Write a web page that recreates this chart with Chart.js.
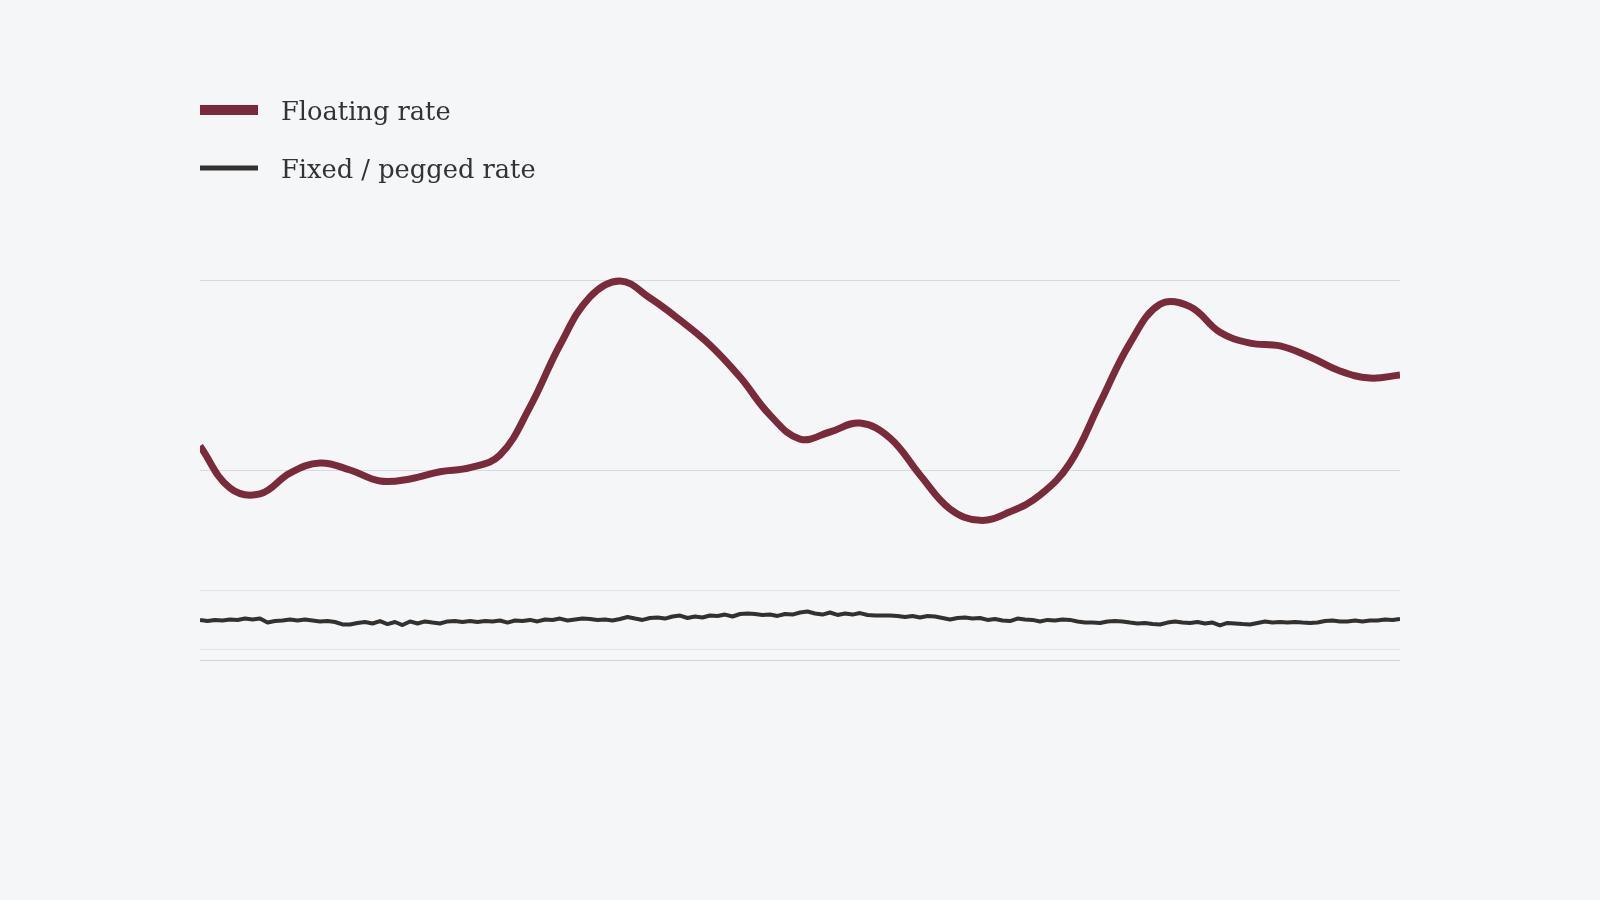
<!DOCTYPE html>
<html>
<head>
<meta charset="utf-8">
<style>
  html, body { margin: 0; padding: 0; background: #f5f6f8; }
  #wrap { width: 1600px; height: 900px; }
</style>
<script src="https://cdn.jsdelivr.net/npm/chart.js@4.4.1/dist/chart.umd.min.js"></script>
</head>
<body>
<div id="wrap"><canvas id="rateChart"></canvas></div>
<script>
// volatility index, sampled evenly across the period (0..100)
const seriesLabels = ["Floating rate", "Fixed / pegged rate"];

const floatingRate = [
  1.126, 0.905, 0.874, 0.984, 1.037, 1.000, 0.942, 0.953, 0.991, 1.012,
  1.079, 1.332, 1.658, 1.911, 1.995, 1.905, 1.789, 1.658, 1.489, 1.289,
  1.163, 1.200, 1.247, 1.168, 0.974, 0.795, 0.735, 0.780, 0.868, 1.037,
  1.353, 1.668, 1.872, 1.860, 1.725, 1.668, 1.653, 1.595, 1.521, 1.484,
  1.500
];

const fixedRate = [
  0.211, 0.205, 0.211, 0.208, 0.213, 0.211, 0.218, 0.213, 0.218, 0.197,
  0.205, 0.208, 0.213, 0.208, 0.213, 0.208, 0.203, 0.205, 0.200, 0.187,
  0.187, 0.195, 0.200, 0.192, 0.205, 0.189, 0.200, 0.184, 0.203, 0.192,
  0.203, 0.197, 0.192, 0.203, 0.205, 0.200, 0.205, 0.200, 0.205, 0.203,
  0.208, 0.197, 0.208, 0.205, 0.211, 0.203, 0.213, 0.211, 0.218, 0.208,
  0.213, 0.218, 0.216, 0.211, 0.213, 0.208, 0.216, 0.226, 0.218, 0.211,
  0.221, 0.224, 0.218, 0.229, 0.234, 0.221, 0.229, 0.224, 0.234, 0.232,
  0.239, 0.229, 0.242, 0.245, 0.242, 0.237, 0.239, 0.232, 0.242, 0.239,
  0.250, 0.255, 0.245, 0.239, 0.250, 0.237, 0.245, 0.239, 0.247, 0.237,
  0.234, 0.234, 0.234, 0.232, 0.226, 0.232, 0.224, 0.232, 0.229, 0.221,
  0.213, 0.221, 0.224, 0.218, 0.221, 0.211, 0.216, 0.208, 0.205, 0.218,
  0.213, 0.211, 0.203, 0.211, 0.208, 0.213, 0.211, 0.203, 0.197, 0.197,
  0.195, 0.203, 0.205, 0.203, 0.197, 0.192, 0.195, 0.189, 0.187, 0.197,
  0.203, 0.197, 0.195, 0.200, 0.192, 0.197, 0.182, 0.195, 0.192, 0.189,
  0.187, 0.195, 0.203, 0.197, 0.200, 0.197, 0.200, 0.197, 0.195, 0.197,
  0.205, 0.208, 0.203, 0.203, 0.208, 0.203, 0.208, 0.208, 0.213, 0.211,
  0.216
];

// gridlines: 0 baseline, peg band edges, then 1 and 2
const gridTicks = [0, 0.053, 0.368, 1, 2];

const toPoints = (values) =>
  values.map((v, i) => ({ x: i * 100 / (values.length - 1), y: v }));

const legendLines = {
  id: "legendLines",
  afterDraw(chart, args, opts) {
    const ctx = chart.ctx;
    ctx.save();
    ctx.font = opts.font;
    ctx.textBaseline = "alphabetic";
    ctx.textAlign = "left";
    chart.data.datasets.forEach((ds, i) => {
      const cy = opts.rows[i];
      ctx.fillStyle = ds.borderColor;
      ctx.fillRect(opts.x, cy - opts.heights[i] / 2, opts.swatch, opts.heights[i]);
      ctx.fillStyle = opts.color;
      ctx.fillText(ds.label, opts.x + opts.swatch + opts.gap, cy + opts.baseline);
    });
    ctx.restore();
  }
};

const ctx = document.getElementById("rateChart").getContext("2d");
const rateChart = new Chart(ctx, {
  type: "line",
  data: {
    datasets: [
      {
        label: seriesLabels[0],
        data: toPoints(floatingRate),
        borderColor: "#7a2b3b",
        borderWidth: 7,
        tension: 0.4,
        pointRadius: 0,
        fill: false,
      },
      {
        label: seriesLabels[1],
        data: toPoints(fixedRate),
        borderColor: "#32312f",
        borderWidth: 4,
        borderJoinStyle: "round",
        tension: 0,
        pointRadius: 0,
        fill: false,
      },
    ],
  },
  options: {
    responsive: true,
    maintainAspectRatio: false,
    animation: false,
    layout: {
      padding: { left: 200, right: 200, top: 242, bottom: 240 },
    },
    scales: {
      x: {
        type: "linear",
        min: 0,
        max: 100,
        display: false,
      },
      y: {
        min: 0,
        max: 2.2,
        afterBuildTicks: (scale) => {
          scale.ticks = gridTicks.map((v) => ({ value: v }));
        },
        ticks: { display: false },
        border: { display: false },
        grid: {
          drawTicks: false,
          lineWidth: 1,
          color: (c) => {
            const v = c.tick.value;
            if (v === 0) return "#d3d3d7";
            if (v < 1) return "#e7dfe2";
            return "#d9d9dc";
          },
        },
      },
    },
    plugins: {
      legend: { display: false },
      tooltip: { enabled: false },
      legendLines: {
        x: 200,
        rows: [110, 168],
        heights: [10, 5],
        swatch: 58,
        gap: 23,
        baseline: 10,
        font: "25.7px 'DejaVu Serif', Georgia, serif",
        color: "#333333",
      },
    },
  },
  plugins: [legendLines],
});
</script>
</body>
</html>
